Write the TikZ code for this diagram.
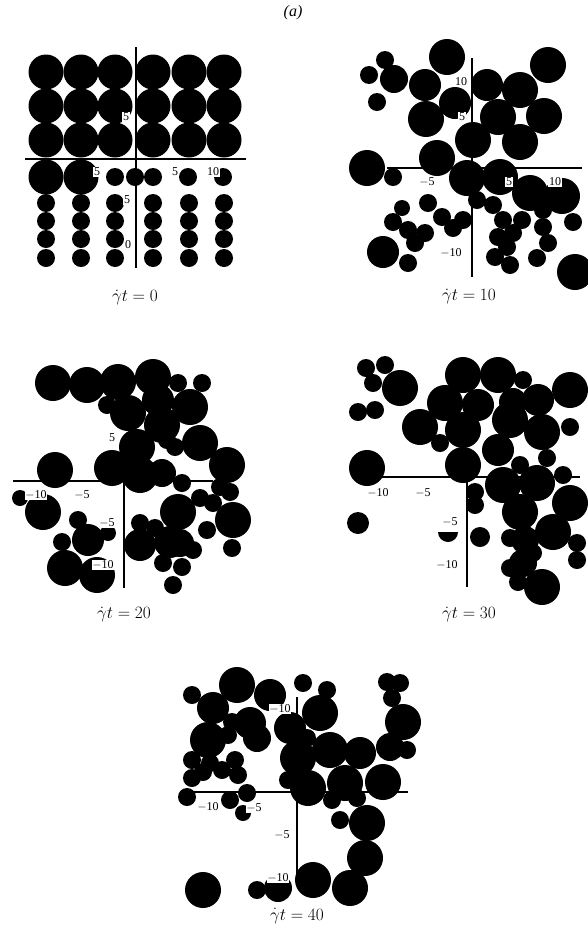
\documentclass[tikz,border=0pt]{standalone}
\usepackage{fontspec}
\setmainfont{Liberation Serif}
\usetikzlibrary{positioning}

\begin{document}
\begin{tikzpicture}[x=1pt,y=-1pt,
    disc/.style={fill=black},
    axis/.style={black,line width=1.1pt},
    ticklabel/.style={fill=white,inner sep=0.6pt,font=\fontsize{12}{12}\selectfont},
    caption/.style={font=\fontsize{17}{17}\selectfont}]
  \useasboundingbox (0,0) rectangle (587,940);
  \node[font=\fontsize{16}{16}\selectfont] (title) at (293,13) {\textit{(a)}};

  % panel gt=0
  \coordinate (p1l) at (25,159);  \coordinate (p1r) at (246,159);
  \coordinate (p1t) at (136,47);  \coordinate (p1b) at (136,268);
  \draw[axis] (p1l) -- (p1r);
  \draw[axis] (p1t) -- (p1b);
  \foreach \xc in {46,81,115,153,189,224}
    \foreach \yc in {72,106,140}
      \fill[disc] (\xc,\yc) circle (17.5pt);
  \foreach \xc in {46,81}
    \fill[disc] (\xc,177) circle (17.5pt);
  \foreach \xc in {115,135,153,188,223}
    \fill[disc] (\xc,177) circle (9pt);
  \foreach \xc in {46,81,115,153,189,224}
    \foreach \yc in {203,221,239,258}
      \fill[disc] (\xc,\yc) circle (9pt);
  \node[ticklabel] (a1) at (126,117) {5};
  \node[ticklabel] (a2) at (97,172) {5};
  \node[ticklabel] (a3) at (175,172) {5};
  \node[ticklabel] (a4) at (213,172) {10};
  \node[ticklabel] (a5) at (127,200) {5};
  \node[ticklabel] (a6) at (128,245) {0};
  \node[caption] (c1) at (135,298) {$\dot\gamma t=0$};

  % panel gt=10
  \coordinate (p2l) at (387,168); \coordinate (p2r) at (582,168);
  \coordinate (p2t) at (472,58);  \coordinate (p2b) at (472,277);
  \draw[axis] (p2l) -- (p2r);
  \draw[axis] (p2t) -- (p2b);
  \foreach \xc/\yc/\rad in {447/57/17,385/60/8,369/75/8,394/79/13,425/85/15,
      377/102/8,426/119/17,455/103/15,487/85/15,520/90/17,548/65/17,498/117/17,
      544/116/17,473/140/17,520/142/17,437/158/17,367/168/17,393/177/8,467/178/17,
      500/177/17,530/193/17,562/196/17,428/203/8,477/200/8,493/205/8,402/208/7,
      442/217/8,463/220/8,393/222/8,408/230/8,425/233/8,453/228/8,503/220/8,
      522/220/8,543/210/8,543/227/8,573/222/8,498/237/8,513/233/8,415/243/8,
      507/247/8,548/243/8,383/252/15,408/263/8,495/257/8,510/265/8,537/258/8,
      575/272/17}
    \fill[disc] (\xc,\yc) circle[radius={(\rad+1)*1pt}];
  \node[ticklabel] (b1) at (461,82) {10};
  \node[ticklabel] (b2) at (462,117) {5};
  \node[ticklabel] (b3) at (427,182) {$-$5};
  \node[ticklabel] (b4) at (509,182) {5};
  \node[ticklabel] (b5) at (555,182) {10};
  \node[ticklabel] (b6) at (451,253) {$-$10};
  \node[caption] (c2) at (469,297) {$\dot\gamma t=10$};

  % panel gt=20
  \coordinate (p3l) at (13,481);  \coordinate (p3r) at (213,481);
  \coordinate (p3t) at (124,437); \coordinate (p3b) at (124,588);
  \draw[axis] (p3l) -- (p3r);
  \draw[axis] (p3t) -- (p3b);
  \foreach \xc/\yc/\rad in {53/383/17,87/385/17,118/382/17,153/377/17,178/383/8,
      202/383/8,107/405/8,128/413/17,158/400/15,190/407/17,162/425/17,137/447/17,
      167/440/8,175/447/8,200/443/17,55/470/17,112/468/17,140/475/17,162/473/13,
      182/483/8,227/465/17,220/487/8,230/492/8,200/498/8,213/503/8,20/498/7,
      43/512/17,178/512/17,233/520/17,78/520/8,140/523/8,155/528/8,108/533/7,
      207/530/8,62/542/8,88/540/15,140/545/15,170/542/15,180/543/13,193/550/8,
      232/548/8,65/568/17,97/575/17,163/563/8,182/567/8,173/585/8}
    \fill[disc] (\xc,\yc) circle[radius={(\rad+1)*1pt}];
  \node[ticklabel,fill=none] (d1) at (112,438) {5};
  \node[ticklabel] (d2) at (36,495) {$-$10};
  \node[ticklabel] (d3) at (82,495) {$-$5};
  \node[ticklabel] (d4) at (107,523) {$-$5};
  \node[ticklabel] (d5) at (103,565) {$-$10};
  \node[caption] (c3) at (124,615) {$\dot\gamma t=20$};

  % panel gt=30
  \coordinate (p4l) at (380,477); \coordinate (p4r) at (580,477);
  \coordinate (p4t) at (467,460); \coordinate (p4b) at (467,587);
  \draw[axis] (p4l) -- (p4r);
  \draw[axis] (p4t) -- (p4b);
  \foreach \xc/\yc/\rad in {366/368/8,385/365/8,373/383/8,400/388/17,358/412/8,
      375/410/8,420/427/17,440/443/8,463/375/17,498/375/17,523/380/8,445/403/17,
      478/405/15,513/402/13,538/400/15,570/390/17,463/430/17,510/420/17,542/432/17,
      570/427/8,498/450/15,463/465/17,520/465/8,547/458/8,563/475/8,503/485/17,
      537/483/17,475/492/8,475/505/8,570/503/17,520/512/17,358/523/10,480/537/9,
      553/532/17,510/538/8,525/540/13,577/543/8,533/553/8,577/560/8,510/568/8,
      523/563/13,518/582/8,542/587/17,367/468/17}
    \fill[disc] (\xc,\yc) circle[radius={(\rad+1)*1pt}];
  \fill[disc] (438,532) arc[start angle=180,end angle=360,radius=10pt] -- cycle;
  \node[ticklabel] (e1) at (378,493) {$-$10};
  \node[ticklabel] (e2) at (423,493) {$-$5};
  \node[ticklabel] (e3) at (450,522) {$-$5};
  \node[ticklabel] (e4) at (447,565) {$-$10};
  \node[caption] (c4) at (469,615) {$\dot\gamma t=30$};

  % panel gt=40
  \coordinate (p5l) at (193,792); \coordinate (p5r) at (408,792);
  \coordinate (p5t) at (297,697); \coordinate (p5b) at (297,880);
  \draw[axis] (p5l) -- (p5r);
  \draw[axis] (p5t) -- (p5b);
  \foreach \xc/\yc/\rad in {237/685/17,192/695/8,213/708/15,270/695/15,303/683/8,
      327/690/8,387/682/8,400/683/8,392/698/8,320/713/17,250/723/15,232/722/8,
      290/728/15,403/722/17,208/740/17,228/735/8,257/738/13,307/738/8,330/750/17,
      298/758/17,360/753/15,390/747/13,407/750/8,192/760/8,210/763/8,235/760/8,
      222/770/8,203/772/8,192/778/8,238/775/8,288/780/8,308/788/17,345/783/17,
      383/782/17,332/800/8,187/797/8,230/800/8,247/793/8,243/813/7,357/798/8,
      340/820/8,367/823/17,365/858/17,203/890/17,257/890/8,278/888/13,313/880/17,
      350/888/17}
    \fill[disc] (\xc,\yc) circle[radius={(\rad+1)*1pt}];
  \node[ticklabel] (f1) at (280,709) {$-$10};
  \node[ticklabel] (f2) at (208,807) {$-$10};
  \node[ticklabel] (f3) at (254,808) {$-$5};
  \node[ticklabel] (f4) at (282,835) {$-$5};
  \node[ticklabel] (f5) at (278,878) {$-$10};
  \node[caption] (c5) at (297,916) {$\dot\gamma t=40$};
\end{tikzpicture}
\end{document}
